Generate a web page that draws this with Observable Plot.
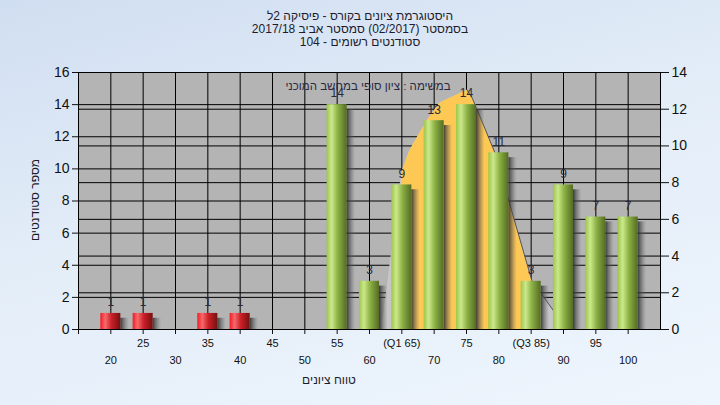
<!DOCTYPE html>
<html><head><meta charset="utf-8">
<script src="https://cdn.jsdelivr.net/npm/d3@7"></script>
<script src="https://cdn.jsdelivr.net/npm/@observablehq/plot@0.6"></script>
<style>
html,body{margin:0;padding:0;}
body{width:720px;height:405px;overflow:hidden;background:linear-gradient(165deg,#d0def1 0%,#e3edf8 45%,#eef5fd 100%);position:relative;font-family:"Liberation Sans",Arial,sans-serif;}
#chart{position:absolute;left:0;top:0;}
.t{position:absolute;color:#1c1c2c;font-size:12px;white-space:nowrap;}
</style></head><body>
<div id="chart"></div>
<div id="title" class="t" style="left:0;width:720px;top:10px;text-align:center;line-height:13px;direction:rtl"></div>
<div id="legend" class="t" style="left:218px;width:300px;top:80px;text-align:center;direction:rtl;color:#2a2a44;font-size:11.5px"></div>
<div id="xtitle" class="t" style="left:229px;width:200px;top:373px;text-align:center;direction:rtl"></div>
<div id="ytitle" class="t" style="left:-65px;width:200px;top:193px;text-align:center;direction:rtl;transform:rotate(-90deg)"></div>
<script>
const titleLines = ["היסטוגרמת ציונים בקורס - פיסיקה 2ל", "בסמסטר  (02/2017)  סמסטר אביב 2017/18", "סטודנטים רשומים - 104"];
const legendText = "במשימה : ציון סופי במחשב המוכני";
const xTitle = "טווח ציונים";
const yTitle = "מספר סטודנטים";

const scores = [20,25,30,35,40,45,50,55,60,65,70,75,80,85,90,95,100];
const counts = [1,1,0,1,1,0,0,14,3,9,13,14,11,3,9,7,7];
const passScore = 55;

const curveX = [61.9, 65, 66.2, 68.9, 70.9, 75.1, 75.9, 79.4, 85.1, 88.4, 90.2];
const curveY = [0, 9.8, 11.1, 13.0, 14.1, 14.9, 14.4, 11.0, 3.05, 1.2, 0];
const q1 = 65, q3 = 85.1;

const leftTicks = [0,2,4,6,8,10,12,14,16];
const rightTicks = [0,2,4,6,8,10,12,14];
const rightMax = 14, leftMax = 16;
const xTickMarks = [15,20,25,30,35,40,45,50,55,60,65,70,75,80,85,90,95,100];
const xUpper = [25,35,45,55,65,75,85,95];
const xUpperLabels = ["25","35","45","55","(Q1 65)","75","(Q3 85)","95"];
const xLower = [20,30,40,50,60,70,80,90,100];

document.getElementById("title").innerHTML = titleLines.map(s => `<div>${s}</div>`).join("");
document.getElementById("legend").textContent = legendText;
document.getElementById("xtitle").textContent = xTitle;
document.getElementById("ytitle").textContent = yTitle;

const bars = scores.map((s,i) => ({score:s, count:counts[i], fail: s < passScore}));
const curve = curveX.map((x,i) => ({x, y: curveY[i]}));
const curveMid = curve.filter(d => d.x >= q1 && d.x <= q3);
const curveDesc = curve.filter(d => d.x >= 75);
const toLeft = v => v * leftMax / rightMax;
const hw = 1.55;

const plot = Plot.plot({
  width: 720, height: 405,
  marginLeft: 78, marginRight: 60, marginTop: 72, marginBottom: 76,
  style: {background: "transparent", fontFamily: "Liberation Sans, Arial, sans-serif", color: "#111"},
  x: {type: "linear", domain: [15, 105]},
  y: {domain: [0, 16]},
  marks: [
    Plot.frame({fill: "#b4b4b4", stroke: null}),
    Plot.ruleY(leftTicks.slice(1, -1), {stroke: "#000", strokeWidth: 1}),
    Plot.ruleY(rightTicks.slice(1, -1).map(toLeft), {stroke: "#000", strokeWidth: 1}),
    Plot.ruleX(scores, {stroke: "#000", strokeWidth: 1}),
    Plot.areaY(curve, {x: "x", y: "y", fill: "#c6c6c6"}),
    Plot.areaY(curveMid, {x: "x", y: "y", fill: "#fec855"}),
    Plot.line(curveDesc, {x: "x", y: "y", stroke: "#555", strokeWidth: 1}),
    Plot.rectY(bars.filter(d => d.count > 0), {x1: d => d.score + hw, x2: d => d.score + hw + 1.3, y1: 0, y2: d => d.count - 0.3, fill: "url(#shadowGrad)", clip: true}),
    Plot.rectY(bars.filter(d => d.count > 0), {x1: d => d.score - hw, x2: d => d.score + hw, y1: 0, y2: "count", fill: d => d.fail ? "url(#redGrad)" : "url(#greenGrad)"}),
    Plot.text(bars.filter(d => d.count > 0), {x: "score", y: "count", text: d => String(d.count), dy: -11, fontSize: 12, fill: "#2a2a3a"}),
    Plot.frame({stroke: "#000"}),
    Plot.axisY({anchor: "left", ticks: leftTicks, tickSize: 6, tickPadding: 3, fontSize: 14, label: null}),
    Plot.axisY({anchor: "right", ticks: rightTicks.map(toLeft), tickFormat: d => String(Math.round(d * rightMax / leftMax)), tickSize: 8, tickPadding: 3, fontSize: 14, label: null}),
    Plot.axisX({ticks: xTickMarks, tickSize: 5, tickFormat: () => "", label: null}),
    Plot.axisX({ticks: xUpper, tickSize: 0, tickPadding: 10, fontSize: 11, tickFormat: d => xUpperLabels[xUpper.indexOf(d)], label: null}),
    Plot.axisX({ticks: xLower, tickSize: 0, tickPadding: 27, fontSize: 11, label: null})
  ]
});

const defs = d3.select(plot).insert("defs", ":first-child");
function grad(id, stops) {
  const g = defs.append("linearGradient").attr("id", id).attr("x1", "0%").attr("x2", "100%").attr("y1", "0%").attr("y2", "0%");
  stops.forEach(([o, c, a]) => g.append("stop").attr("offset", o).attr("stop-color", c).attr("stop-opacity", a ?? 1));
}
grad("greenGrad", [["0%", "#9cc64a"], ["25%", "#cce88c"], ["55%", "#8db244"], ["100%", "#536c24"]]);
grad("redGrad", [["0%", "#f01c28"], ["25%", "#f66a6a"], ["55%", "#cc2028"], ["100%", "#741010"]]);
grad("shadowGrad", [["0%", "#2c2c2c", 0.9], ["100%", "#6a6a6a", 0]]);

document.getElementById("chart").appendChild(plot);
</script>
</body></html>
